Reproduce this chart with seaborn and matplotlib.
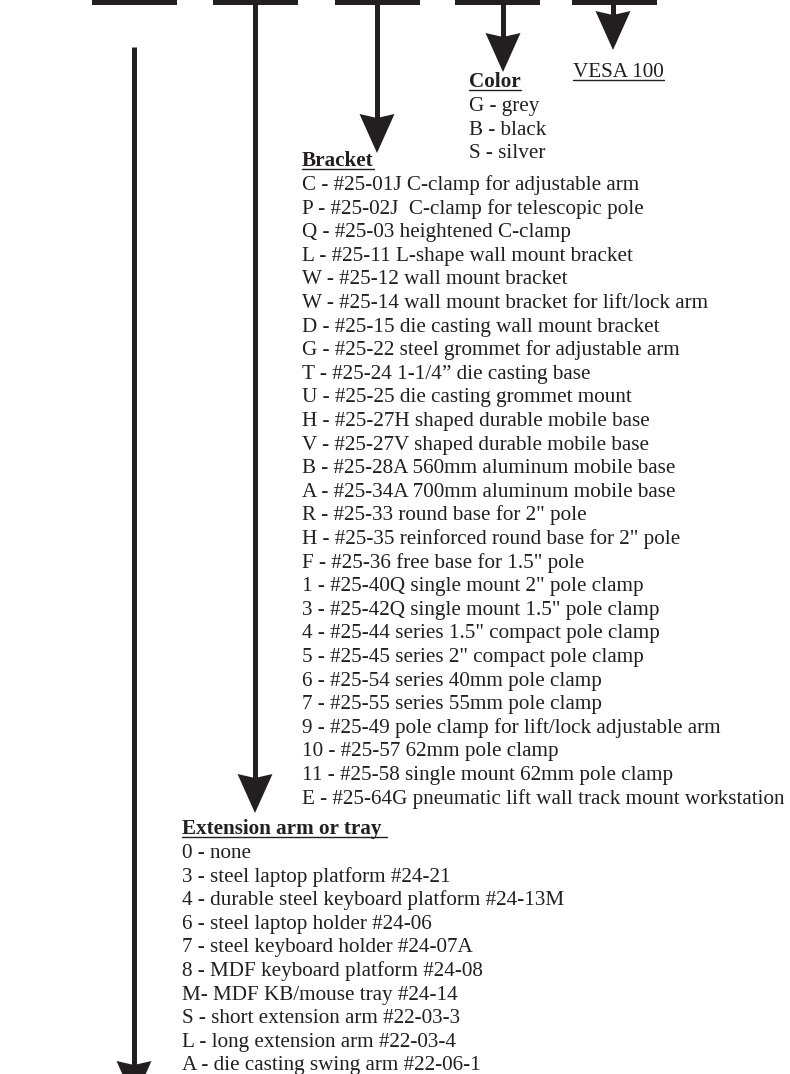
import matplotlib.pyplot as plt
import seaborn as sns
from matplotlib.patches import Polygon, Rectangle

# part-number legend: five code boxes, each pointing at its option list
vesa_label = "VESA 100"

color_title = "Color"
color_items = ["G - grey", "B - black", "S - silver"]

bracket_title = "Bracket"
bracket_items = [
    "C - #25-01J C-clamp for adjustable arm",
    "P - #25-02J  C-clamp for telescopic pole",
    "Q - #25-03 heightened C-clamp",
    "L - #25-11 L-shape wall mount bracket",
    "W - #25-12 wall mount bracket",
    "W - #25-14 wall mount bracket for lift/lock arm",
    "D - #25-15 die casting wall mount bracket",
    "G - #25-22 steel grommet for adjustable arm",
    "T - #25-24 1-1/4\u201d die casting base",
    "U - #25-25 die casting grommet mount",
    "H - #25-27H shaped durable mobile base",
    "V - #25-27V shaped durable mobile base",
    "B - #25-28A 560mm aluminum mobile base",
    "A - #25-34A 700mm aluminum mobile base",
    "R - #25-33 round base for 2\" pole",
    "H - #25-35 reinforced round base for 2\" pole",
    "F - #25-36 free base for 1.5\" pole",
    "1 - #25-40Q single mount 2\" pole clamp",
    "3 - #25-42Q single mount 1.5\" pole clamp",
    "4 - #25-44 series 1.5\" compact pole clamp",
    "5 - #25-45 series 2\" compact pole clamp",
    "6 - #25-54 series 40mm pole clamp",
    "7 - #25-55 series 55mm pole clamp",
    "9 - #25-49 pole clamp for lift/lock adjustable arm",
    "10 - #25-57 62mm pole clamp",
    "11 - #25-58 single mount 62mm pole clamp",
    "E - #25-64G pneumatic lift wall track mount workstation",
]

extension_title = "Extension arm or tray"
extension_items = [
    "0 - none",
    "3 - steel laptop platform #24-21",
    "4 - durable steel keyboard platform #24-13M",
    "6 - steel laptop holder #24-06",
    "7 - steel keyboard holder #24-07A",
    "8 - MDF keyboard platform #24-08",
    "M- MDF KB/mouse tray #24-14",
    "S - short extension arm #22-03-3",
    "L - long extension arm #22-03-4",
    "A - die casting swing arm #22-06-1",
]

# layout in pixels (origin top-left)
W, H = 790, 1074
box_left = [92, 213, 335, 455, 572]
box_w, box_h = 85, 5
shaft_x = [134, 255, 377, 503, 613]
shaft_top = [47, 0, 0, 0, 0]
tip_y = [1100, 813, 153, 72, 50]
head_len, head_w, notch = 39, 35, 4
line_gap = 23.6
fs = 15.2

sns.set_theme(style="white")
plt.rcParams["font.family"] = "serif"
plt.rcParams["font.serif"] = ["Liberation Serif"]

fig = plt.figure(figsize=(W / 100, H / 100), dpi=100)
ax = fig.add_axes([0, 0, 1, 1])
ax.set_xlim(0, W)
ax.set_ylim(H, 0)
ax.axis("off")

for x0 in box_left:
    ax.add_patch(Rectangle((x0, -5), box_w, box_h + 5, color="#231f20", lw=0))

for x, top, tip in zip(shaft_x, shaft_top, tip_y):
    ax.plot([x, x], [top, tip - head_len + notch], color="#231f20", lw=3.6,
            solid_capstyle="butt")
    head = [(x - head_w / 2, tip - head_len), (x, tip - head_len + notch),
            (x + head_w / 2, tip - head_len), (x, tip)]
    ax.add_patch(Polygon(head, closed=True, color="#231f20", lw=0))

underlined = []


def put(x, y, s, bold=False, underline=False, extra=0):
    t = ax.text(x, y, s, fontsize=fs, color="#231f20", va="baseline", ha="left",
                fontweight="bold" if bold else "normal")
    if underline:
        underlined.append((t, extra))
    return t


put(573, 77, vesa_label, underline=True)

put(469, 87, color_title, bold=True, underline=True)
for i, s in enumerate(color_items):
    put(469, 111 + i * line_gap, s)

put(302, 166, bracket_title, bold=True, underline=True)
for i, s in enumerate(bracket_items):
    put(302, 190 + i * line_gap, s)

put(182, 834, extension_title, bold=True, underline=True, extra=5)
for i, s in enumerate(extension_items):
    put(182, 858 + i * line_gap, s)

fig.canvas.draw()
inv = ax.transData.inverted()
for t, extra in underlined:
    bb = t.get_window_extent()
    (x0, _), (x1, _) = inv.transform([(bb.x0, 0), (bb.x1, 0)])
    y = t.get_position()[1] + 2.5
    ax.plot([x0, x1 + extra], [y, y], color="#231f20", lw=1.0)

fig.savefig("out.png", dpi=100)
